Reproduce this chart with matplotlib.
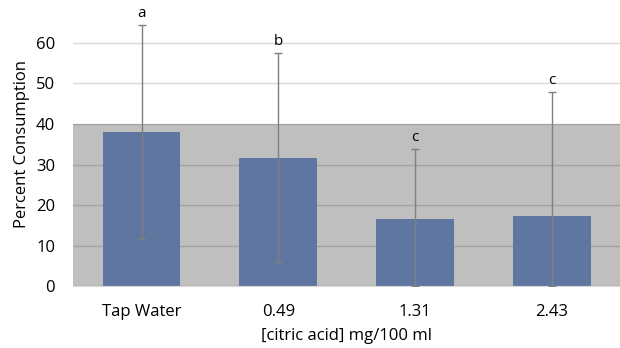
import matplotlib
matplotlib.use("Agg")
import matplotlib.pyplot as plt
import numpy as np

# data
categories = ["Tap Water", "0.49", "1.31", "2.43"]
consumption = [38.0, 31.7, 16.5, 17.4]
err_upper = [26.4, 25.7, 17.3, 30.5]
err_lower = [26.4, 25.7, 16.5, 17.4]   # lower whiskers stop at zero
letters = ["a", "b", "c", "c"]
band_top = 40

plt.rcParams["font.family"] = ["Open Sans", "DejaVu Sans"]

fig = plt.figure(figsize=(6.2, 3.48), dpi=100)
ax = fig.add_axes([0.118, 0.178, 0.882, 0.815])

x = np.arange(len(categories))

# grid, then a translucent band over it, then bars
ax.set_axisbelow(True)
ax.yaxis.grid(True, color="#D9D9D9", linewidth=1, zorder=0)
ax.axhspan(0, band_top, color="black", alpha=0.25, linewidth=0, zorder=1)
ax.bar(x, consumption, width=0.57, color="#5F77A0", zorder=2)
ax.errorbar(x, consumption, yerr=[err_lower, err_upper], fmt="none",
            ecolor="#7F7F7F", elinewidth=1, capsize=3, capthick=1, zorder=3)

for xi, top, lab in zip(x, np.array(consumption) + np.array(err_upper), letters):
    ax.text(xi, top + 1.0, lab, ha="center", va="bottom", fontsize=11)

ax.set_xlim(-0.5, 3.5)
ax.set_ylim(0, 70)
ax.set_yticks(range(0, 61, 10))
ax.set_xticks(x)
ax.set_xticklabels(categories)
ax.tick_params(length=0, labelsize=12, colors="black")
ax.tick_params(axis="x", pad=13)
ax.tick_params(axis="y", pad=13)

for s in ["top", "right", "left"]:
    ax.spines[s].set_visible(False)
ax.spines["bottom"].set_color("#D9D9D9")

ax.set_xlabel("[citric acid] mg/100 ml", fontsize=12, labelpad=6)
ax.set_ylabel("Percent Consumption", fontsize=12, labelpad=4)

fig.savefig("out.png", dpi=100)
